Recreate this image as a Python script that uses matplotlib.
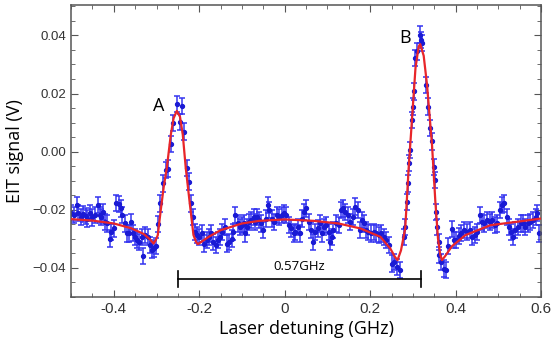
import numpy as np
import matplotlib
matplotlib.use("Agg")
import matplotlib.pyplot as plt
from matplotlib.ticker import MultipleLocator

# measured EIT signal (GHz, V)
det_ghz = [
    -0.499, -0.494, -0.487, -0.484, -0.477, -0.472, -0.466, -0.462, -0.456, -0.451,
    -0.445, -0.438, -0.433, -0.429, -0.425, -0.420, -0.415, -0.409, -0.406, -0.400,
    -0.394, -0.388, -0.384, -0.380, -0.374, -0.370, -0.365, -0.360, -0.356, -0.351,
    -0.345, -0.341, -0.335, -0.331, -0.326, -0.321, -0.316, -0.310, -0.306, -0.301,
    -0.2955, -0.2915, -0.284, -0.277, -0.272, -0.266, -0.2605, -0.2525, -0.2447, -0.2407,
    -0.2346, -0.229, -0.225, -0.2183, -0.2135, -0.2096,
    -0.206, -0.200, -0.194, -0.188, -0.182, -0.177, -0.172, -0.167, -0.161, -0.156,
    -0.151, -0.146, -0.139, -0.135, -0.130, -0.124, -0.120, -0.116, -0.110, -0.104,
    -0.100, -0.096, -0.093, -0.089, -0.083, -0.078, -0.073, -0.069, -0.065, -0.060,
    -0.055, -0.050, -0.044, -0.039, -0.036, -0.030, -0.024, -0.018, -0.013, -0.007,
    -0.001,
    0.004, 0.009, 0.014, 0.021, 0.025, 0.030, 0.035, 0.040, 0.046, 0.050,
    0.056, 0.061, 0.066, 0.071, 0.077, 0.082, 0.087, 0.093, 0.097, 0.103,
    0.107, 0.110, 0.114, 0.120, 0.126, 0.132, 0.136, 0.142, 0.147, 0.153,
    0.160, 0.165, 0.171, 0.175, 0.181, 0.186, 0.191, 0.196, 0.202, 0.208,
    0.214, 0.220, 0.225, 0.232, 0.238, 0.243,
    0.251, 0.256, 0.263, 0.2705, 0.278, 0.282, 0.2862, 0.2885, 0.2916, 0.294,
    0.2978, 0.2994, 0.3017, 0.3057, 0.3096, 0.3174, 0.320, 0.3213, 0.3307, 0.3353,
    0.3408, 0.3447, 0.3486, 0.351, 0.354, 0.3564, 0.3603, 0.362, 0.3666, 0.372,
    0.3775, 0.383, 0.391, 0.395, 0.401, 0.407, 0.4134, 0.420, 0.427, 0.433,
    0.438, 0.445, 0.450, 0.456, 0.462, 0.467, 0.474, 0.480, 0.485, 0.491,
    0.497, 0.503, 0.509, 0.514, 0.520, 0.524, 0.530, 0.534, 0.540, 0.545,
    0.552, 0.558, 0.563, 0.569, 0.575, 0.581, 0.587, 0.591, 0.595,
]
eit_v = [
    -0.0210, -0.0218, -0.0184, -0.0212, -0.0224, -0.0215, -0.0222, -0.0230, -0.0212, -0.0226,
    -0.0218, -0.0184, -0.0218, -0.0224, -0.0207, -0.0241, -0.0247, -0.0299, -0.0276, -0.0264,
    -0.0176, -0.0180, -0.0195, -0.0218, -0.0247, -0.0281, -0.0281, -0.0241, -0.0279, -0.0293,
    -0.0304, -0.0310, -0.0293, -0.0360, -0.0287, -0.0293, -0.0322, -0.0337, -0.0333, -0.0325,
    -0.0250, -0.0178, -0.0109, -0.0063, -0.0058, 0.0026, 0.0098, 0.0163, 0.0103, 0.0158,
    0.0069, -0.0057, -0.0103, -0.0178, -0.0225, -0.0276,
    -0.0287, -0.0293, -0.0281, -0.0316, -0.0304, -0.0293, -0.0281, -0.0310, -0.0322, -0.0304,
    -0.0293, -0.0276, -0.0258, -0.0316, -0.0310, -0.0299, -0.0276, -0.0218, -0.0247, -0.0258,
    -0.0253, -0.0247, -0.0281, -0.0258, -0.0241, -0.0235, -0.0224, -0.0241, -0.0224, -0.0235,
    -0.0247, -0.0270, -0.0230, -0.0184, -0.0201, -0.0230, -0.0241, -0.0218, -0.0224, -0.0218,
    -0.0212,
    -0.0218, -0.0253, -0.0264, -0.0281, -0.0276, -0.0258, -0.0281, -0.0230, -0.0207, -0.0195,
    -0.0241, -0.0270, -0.0310, -0.0276, -0.0264, -0.0247, -0.0281, -0.0258, -0.0253, -0.0276,
    -0.0310, -0.0293, -0.0270, -0.0247, -0.0253, -0.0201, -0.0195, -0.0207, -0.0218, -0.0241,
    -0.0224, -0.0189, -0.0201, -0.0270, -0.0235, -0.0247, -0.0270, -0.0276, -0.0281, -0.0276,
    -0.0281, -0.0287, -0.0281, -0.0293, -0.0304, -0.0322,
    -0.0385, -0.0380, -0.0397, -0.0408, -0.0293, -0.0258, -0.0172, -0.0109, -0.0040, 0.0006,
    0.0109, 0.0155, 0.0207, 0.0322, 0.0345, 0.0403, 0.0385, 0.0374, 0.0230, 0.0155,
    0.0081, 0.0035, -0.0052, -0.0097, -0.0207, -0.0258, -0.0310, -0.0356, -0.0379, -0.0402,
    -0.0408, -0.0325, -0.0267, -0.0304, -0.0305, -0.0290, -0.0280, -0.0270, -0.0276, -0.0270,
    -0.0293, -0.0287, -0.0276, -0.0218, -0.0241, -0.0247, -0.0235, -0.0241, -0.0235, -0.0253,
    -0.0247, -0.0201, -0.0184, -0.0178, -0.0224, -0.0258, -0.0276, -0.0293, -0.0270, -0.0258,
    -0.0247, -0.0247, -0.0258, -0.0247, -0.0241, -0.0235, -0.0224, -0.0212, -0.0281,
]
eit_err = 0.0028

# fitted curve
fit_ghz = [
    -0.500, -0.450, -0.400, -0.360, -0.330, -0.315, -0.307, -0.302, -0.297, -0.290,
    -0.283, -0.276, -0.2666, -0.260, -0.2525, -0.245, -0.2385, -0.2315, -0.222, -0.2135,
    -0.207, -0.203, -0.195, -0.178, -0.150, -0.100, -0.060, 0.000, 0.068, 0.126,
    0.177, 0.224, 0.247, 0.258, 0.264, 0.272, 0.282, 0.290, 0.298, 0.306,
    0.3135, 0.317, 0.3252, 0.333, 0.3447, 0.3525, 0.3587, 0.364, 0.368, 0.375,
    0.3915, 0.4228, 0.481, 0.544, 0.600,
]
fit_v = [
    -0.0232, -0.0237, -0.0247, -0.0263, -0.0283, -0.0302, -0.0316, -0.0305, -0.0287, -0.0200,
    -0.0120, -0.0057, 0.0058, 0.0115, 0.0140, 0.0120, 0.0058, -0.0057, -0.0180, -0.0287,
    -0.0312, -0.0318, -0.0310, -0.0293, -0.0270, -0.0247, -0.0238, -0.0233, -0.0238, -0.0247,
    -0.0264, -0.0293, -0.0333, -0.0362, -0.0373, -0.0340, -0.0264, -0.0057, 0.0115, 0.0288,
    0.0362, 0.0370, 0.0330, 0.0230, 0.0023, -0.0172, -0.0299, -0.0355, -0.0373, -0.0360,
    -0.0325, -0.0287, -0.0253, -0.0241, -0.0230,
]

x_ticks = [-0.4, -0.2, 0, 0.2, 0.4, 0.6]
x_ticklabels = ['-0.4', '-0.2', '0', '0.2', '0.4', '0.6']
y_ticks = [-0.04, -0.02, 0.0, 0.02, 0.04]
y_ticklabels = ['\u22120.04', '\u22120.02', '0.00', '0.02', '0.04']

peak_labels = ['A', 'B']
peak_label_pos = [(-0.296, 0.0157), (0.282, 0.039)]
span_ends = [-0.25, 0.32]
span_y = -0.0437
span_text = '0.57GHz'

fig = plt.figure(figsize=(5.55, 3.47), dpi=100)
ax = fig.add_axes([0.128, 0.144, 0.847, 0.842])

ax.errorbar(det_ghz, eit_v, yerr=eit_err, fmt='o', ms=2.8, color='#1a1ad4',
            ecolor='#3434f0', elinewidth=1.1, capsize=2.4, capthick=1.1, zorder=2)
ax.plot(fit_ghz, fit_v, color='#e8262a', lw=1.6, zorder=3)

for lab, (px, py) in zip(peak_labels, peak_label_pos):
    ax.text(px, py, lab, fontsize=13, family='Open Sans', ha='center', va='center')

# distance between the two peaks
ax.plot(span_ends, [span_y, span_y], color='black', lw=1.2)
for xe in span_ends:
    ax.plot([xe, xe], [span_y - 0.0027, span_y + 0.0027], color='black', lw=1.2)
ax.text(sum(span_ends) / 2, span_y + 0.0021, span_text, fontsize=9.5,
        family='Open Sans', ha='center', va='bottom')

ax.set_xlim(-0.5, 0.6)
ax.set_ylim(-0.050, 0.0505)
ax.set_xticks(x_ticks)
ax.set_xticklabels(x_ticklabels, family='Liberation Sans')
ax.set_yticks(y_ticks)
ax.set_yticklabels(y_ticklabels, family='Liberation Sans')
ax.xaxis.set_minor_locator(MultipleLocator(0.05))
ax.yaxis.set_minor_locator(MultipleLocator(0.005))
ax.tick_params(which='both', direction='in', top=True, right=True,
               color='#555555', labelcolor='#333333')
ax.tick_params(axis='x', labelsize=11)
ax.tick_params(axis='y', labelsize=9.5)
ax.tick_params(which='major', length=5)
ax.tick_params(which='minor', length=3)
for s in ax.spines.values():
    s.set_color('#555555')
    s.set_linewidth(1.1)

ax.set_xlabel('Laser detuning (GHz)', fontsize=13, family='Open Sans', labelpad=3)
ax.set_ylabel('EIT signal (V)', fontsize=13, family='Open Sans', labelpad=6)

fig.savefig('out.png', dpi=100)
